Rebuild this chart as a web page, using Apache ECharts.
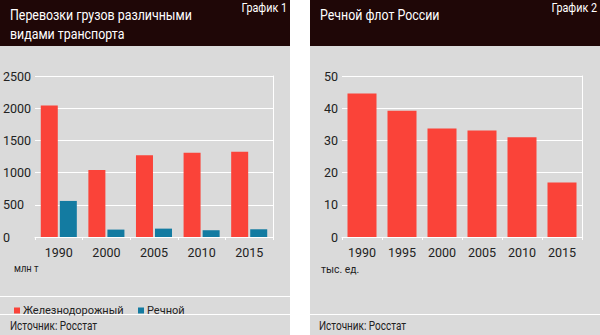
<!DOCTYPE html>
<html><head><meta charset="utf-8">
<script src="https://cdn.jsdelivr.net/npm/echarts@6/dist/echarts.min.js"></script>
<style>html,body{margin:0;padding:0;background:#fff}#c{width:600px;height:335px}</style>
</head><body><div id="c"></div>
<script>
// Chart 1 data
var cat1 = ['1990', '2000', '2005', '2010', '2015'];
var rail = [2040, 1040, 1270, 1310, 1325];
var river = [560, 115, 130, 105, 120];
var yTicks1 = [0, 500, 1000, 1500, 2000, 2500];
var series1Names = ['Железнодорожный', 'Речной'];
// Chart 2 data
var cat2 = ['1990', '1995', '2000', '2005', '2010', '2015'];
var fleet = [44.6, 39.2, 33.7, 33.1, 31.0, 16.9];
var yTicks2 = [0, 10, 20, 30, 40, 50];

var FAM = 'Roboto, sans-serif';
function F(sz) { return sz + 'px ' + FAM; }
var RED = '#fa4339', BLUE = '#137ba1', BG = '#dadada', HEAD = '#1f0707', TXT = '#222';

var chart = echarts.init(document.getElementById('c'), null, {renderer: 'svg'});
function plain(v) { return String(v); }
function yAxisCfg(gi, ticks, labelCfg) {
  return {
    type: 'value', gridIndex: gi, min: ticks[0], max: ticks[ticks.length - 1],
    interval: ticks[1] - ticks[0],
    axisLine: {show: false}, axisTick: {show: false},
    splitLine: {lineStyle: {color: '#fff', width: 1}},
    axisLabel: Object.assign({color: TXT, fontFamily: FAM, fontSize: 12.5, formatter: plain}, labelCfg)
  };
}
function rightBorder(gi) {
  return {type: 'value', gridIndex: gi, position: 'right', min: 0, max: 1,
    axisLine: {show: true, lineStyle: {color: '#fff', width: 1}},
    axisTick: {show: false}, axisLabel: {show: false}, splitLine: {show: false}};
}
function xAxisCfg(gi, cats) {
  return {
    type: 'category', gridIndex: gi, data: cats,
    axisLine: {lineStyle: {color: '#fff', width: 1}},
    axisTick: {show: true, length: 3, lineStyle: {color: '#fff'}},
    axisLabel: {color: TXT, fontFamily: FAM, fontSize: 12.5, margin: 9}
  };
}
function txt(x, y, s, sz, fill, sx, align) {
  return {type: 'text', x: x, y: y, scaleX: sx,
    style: {text: s, fill: fill, font: F(sz), textVerticalAlign: 'top', textAlign: align || 'left'}};
}
function legendCfg(left, name) {
  return {
    left: left, top: 300, itemWidth: 6, itemHeight: 6, icon: 'rect',
    textStyle: {color: TXT, fontFamily: FAM, fontSize: 11, padding: [0, 0, 0, -2]},
    data: [name]
  };
}
var option = {
  animation: false,
  textStyle: {fontFamily: FAM},
  graphic: [
    {type: 'rect', shape: {x: 0, y: 0, width: 290, height: 335}, style: {fill: BG}, z: -10},
    {type: 'rect', shape: {x: 310, y: 0, width: 290, height: 335}, style: {fill: BG}, z: -10},
    {type: 'rect', shape: {x: 0, y: 0, width: 290, height: 46}, style: {fill: HEAD}, z: -9},
    {type: 'rect', shape: {x: 310, y: 0, width: 290, height: 46}, style: {fill: HEAD}, z: -9},
    {type: 'line', shape: {x1: 0, y1: 296.5, x2: 290, y2: 296.5}, style: {stroke: '#fff', lineWidth: 1}, z: -8},
    {type: 'line', shape: {x1: 0, y1: 314.5, x2: 290, y2: 314.5}, style: {stroke: '#fff', lineWidth: 1}, z: -8},
    {type: 'line', shape: {x1: 310, y1: 314.5, x2: 600, y2: 314.5}, style: {stroke: '#fff', lineWidth: 1}, z: -8},
    txt(10, 6, 'Перевозки грузов различными', 15.5, '#fff', 0.8),
    txt(10, 25, 'видами транспорта', 15.5, '#fff', 0.8),
    txt(320, 6, 'Речной флот России', 15.5, '#fff', 0.8),
    txt(287, 2, 'График 1', 12, '#fff', 0.9, 'right'),
    txt(597, 2, 'График 2', 12, '#fff', 0.9, 'right'),
    txt(14, 263, 'млн т', 11, TXT, 0.85),
    txt(321, 263, 'тыс. ед.', 11.5, TXT, 0.9),
    txt(10, 320, 'Источник: Росстат', 12.5, TXT, 0.8),
    txt(319, 320, 'Источник: Росстат', 12.5, TXT, 0.8)
  ],
  legend: [legendCfg(9, series1Names[0]), legendCfg(133, series1Names[1])],
  grid: [
    {left: 35, top: 76, width: 238, height: 161},
    {left: 342, top: 76, width: 240, height: 161}
  ],
  xAxis: [xAxisCfg(0, cat1), xAxisCfg(1, cat2)],
  yAxis: [
    yAxisCfg(0, yTicks1, {align: 'left', margin: 32}),
    yAxisCfg(1, yTicks2, {margin: 4}),
    rightBorder(0), rightBorder(1)
  ],
  series: [
    {name: series1Names[0], type: 'bar', xAxisIndex: 0, yAxisIndex: 0, data: rail,
     barWidth: 17, barGap: '12%', itemStyle: {color: RED}},
    {name: series1Names[1], type: 'bar', xAxisIndex: 0, yAxisIndex: 0, data: river,
     barWidth: 17, barGap: '12%', itemStyle: {color: BLUE}},
    {name: 'Флот', type: 'bar', xAxisIndex: 1, yAxisIndex: 1, data: fleet,
     barWidth: 29, itemStyle: {color: RED}}
  ]
};
chart.setOption(option);
</script></body></html>
